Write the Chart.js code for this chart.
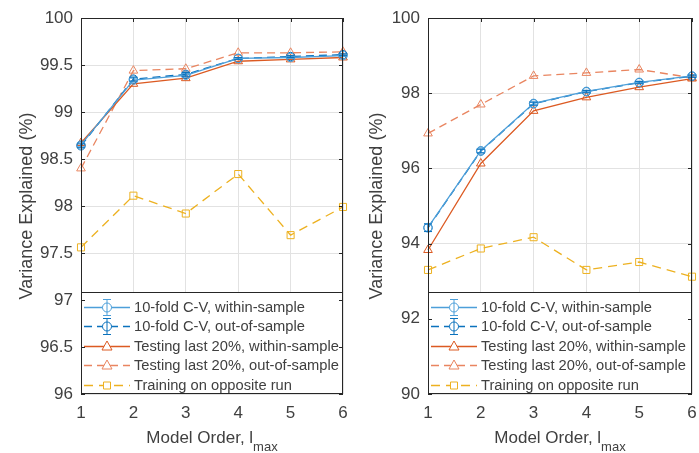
<!DOCTYPE html>
<html>
<head>
<meta charset="utf-8">
<script src="https://cdn.jsdelivr.net/npm/chart.js@4.4.1/dist/chart.umd.min.js"></script>
<style>
  body { margin: 0; background: #fff; }
  .panel { position: absolute; top: 0; width: 350px; height: 453px; }
  #left { left: 0; }
  #right { left: 349px; }
</style>
</head>
<body>
<div class="panel" id="left"><canvas id="chartLeft"></canvas></div>
<div class="panel" id="right"><canvas id="chartRight"></canvas></div>
<script>
// model order on the x axis
const orders = [1, 2, 3, 4, 5, 6];

// left panel
const leftCvWithin = [98.65, 99.34, 99.39, 99.57, 99.58, 99.60];
const leftCvOut = [98.64, 99.35, 99.40, 99.57, 99.59, 99.61];
const leftCvErrWithin = [0.02, 0.02, 0.02, 0.01, 0.01, 0.01];
const leftCvErrOut = [0.02, 0.02, 0.02, 0.01, 0.01, 0.01];
const leftTestWithin = [98.67, 99.30, 99.36, 99.54, 99.56, 99.58];
const leftTestOut = [98.40, 99.44, 99.46, 99.63, 99.63, 99.64];
const leftOpposite = [97.56, 98.11, 97.92, 98.34, 97.69, 97.99];
const leftTicks = [96, 96.5, 97, 97.5, 98, 98.5, 99, 99.5, 100];

// right panel
const rightCvWithin = [94.43, 96.47, 97.73, 98.05, 98.29, 98.46];
const rightCvOut = [94.42, 96.46, 97.72, 98.04, 98.28, 98.45];
const rightCvErrWithin = [0.10, 0.05, 0.04, 0.03, 0.03, 0.03];
const rightCvErrOut = [0.10, 0.05, 0.04, 0.03, 0.03, 0.03];
const rightTestWithin = [93.83, 96.13, 97.53, 97.89, 98.16, 98.39];
const rightTestOut = [96.93, 97.70, 98.46, 98.54, 98.63, 98.41];
const rightOpposite = [93.30, 93.87, 94.17, 93.30, 93.51, 93.12];
const rightTicks = [90, 92, 94, 96, 98, 100];

const legendLabels = [
  '10-fold C-V, within-sample',
  '10-fold C-V, out-of-sample',
  'Testing last 20%, within-sample',
  'Testing last 20%, out-of-sample',
  'Training on opposite run'
];

const BLUE_LIGHT = '#4d9fd9';
const BLUE = '#0b72bd';
const ORANGE = '#dc5a22';
const ORANGE_LIGHT = '#e98560';
const YELLOW = '#edb120';
const AXIS = '#262626';
const TEXT = '#404040';
const FONT = '"Liberation Sans", Arial, sans-serif';

const toPoints = (vals) => vals.map((v, i) => ({ x: orders[i], y: v }));

// custom drawing: error bars, frame with inward ticks, legend, axis titles
const panelPlugin = {
  id: 'panelPlugin',
  afterDatasetsDraw(chart) {
    const { ctx, chartArea: a, scales } = chart;
    const xs = scales.x, ys = scales.y;

    // error bars on the C-V series
    chart.data.datasets.forEach((ds) => {
      if (!ds.errors) return;
      ctx.save();
      ctx.strokeStyle = ds.borderColor;
      ctx.lineWidth = 1;
      ds.data.forEach((p, i) => {
        const px = xs.getPixelForValue(p.x);
        const y1 = ys.getPixelForValue(p.y + ds.errors[i]);
        const y2 = ys.getPixelForValue(p.y - ds.errors[i]);
        ctx.beginPath();
        ctx.moveTo(px, y1); ctx.lineTo(px, y2);
        ctx.moveTo(px - 4, y1); ctx.lineTo(px + 4, y1);
        ctx.moveTo(px - 4, y2); ctx.lineTo(px + 4, y2);
        ctx.stroke();
      });
      ctx.restore();
    });

    // legend box inside the bottom of the plot
    const lh = 102;
    const lt = a.bottom - lh;
    ctx.save();
    ctx.fillStyle = '#fff';
    ctx.fillRect(a.left, lt, a.right - a.left, lh);
    ctx.strokeStyle = AXIS;
    ctx.lineWidth = 1;
    ctx.strokeRect(a.left + 0.5, lt + 0.5, a.right - a.left - 1, lh - 1);
    ctx.font = '14.7px ' + FONT;
    ctx.textBaseline = 'middle';
    chart.data.datasets.forEach((ds, i) => {
      const y = Math.round(lt + 14.5 + i * 19.5) + 0.5;
      const x0 = a.left + 3, x1 = a.left + 49, xm = (x0 + x1) / 2;
      ctx.strokeStyle = ds.borderColor;
      ctx.lineWidth = 1.3;
      ctx.setLineDash(ds.borderDash || []);
      ctx.beginPath(); ctx.moveTo(x0, y); ctx.lineTo(x1, y); ctx.stroke();
      ctx.setLineDash([]);
      ctx.lineWidth = 1;
      ctx.fillStyle = '#fff';
      ctx.beginPath();
      if (ds.pointStyle === 'circle') {
        ctx.arc(xm, y, 4.5, 0, Math.PI * 2);
        ctx.fill(); ctx.stroke();
        ctx.beginPath();
        ctx.moveTo(xm, y - 8); ctx.lineTo(xm, y + 8);
        ctx.moveTo(xm - 4, y - 8); ctx.lineTo(xm + 4, y - 8);
        ctx.moveTo(xm - 4, y + 8); ctx.lineTo(xm + 4, y + 8);
        ctx.stroke();
      } else if (ds.pointStyle === 'triangle') {
        ctx.moveTo(xm, y - 5.5); ctx.lineTo(xm + 5, y + 3.5); ctx.lineTo(xm - 5, y + 3.5);
        ctx.closePath(); ctx.fill(); ctx.stroke();
      } else {
        ctx.rect(xm - 3.5, y - 3.5, 7, 7);
        ctx.fill(); ctx.stroke();
      }
      ctx.fillStyle = TEXT;
      ctx.fillText(legendLabels[i], a.left + 53, y);
    });
    ctx.restore();
  },
  afterDraw(chart) {
    const { ctx, chartArea: a, scales } = chart;
    ctx.save();
    // frame and inward ticks
    ctx.strokeStyle = AXIS;
    ctx.lineWidth = 1;
    ctx.strokeRect(a.left + 0.5, a.top + 0.5, a.right - a.left - 1, a.bottom - a.top - 1);
    ctx.beginPath();
    scales.y.ticks.forEach((t) => {
      const py = Math.round(scales.y.getPixelForValue(t.value)) + 0.5;
      ctx.moveTo(a.left, py); ctx.lineTo(a.left + 4, py);
      ctx.moveTo(a.right, py); ctx.lineTo(a.right - 4, py);
    });
    scales.x.ticks.forEach((t) => {
      const px = Math.round(scales.x.getPixelForValue(t.value)) + 0.5;
      ctx.moveTo(px, a.top); ctx.lineTo(px, a.top + 4);
    });
    ctx.stroke();

    // axis titles
    ctx.fillStyle = TEXT;
    ctx.font = '17px ' + FONT;
    ctx.textBaseline = 'middle';
    const main = 'Model Order, l';
    const wMain = ctx.measureText(main).width;
    ctx.font = '13px ' + FONT;
    const wSub = ctx.measureText('max').width;
    const cx = (a.left + a.right) / 2;
    const sx = cx - (wMain + wSub) / 2;
    ctx.font = '17px ' + FONT;
    ctx.textAlign = 'left';
    ctx.fillText(main, sx, 438);
    ctx.font = '13px ' + FONT;
    ctx.fillText('max', sx + wMain, 447);

    ctx.font = '18px ' + FONT;
    ctx.textAlign = 'center';
    ctx.translate(chart.canvas.id === 'chartLeft' ? 27 : 28, (a.top + a.bottom) / 2);
    ctx.rotate(-Math.PI / 2);
    ctx.fillText('Variance Explained (%)', 0, 0);
    ctx.restore();
  }
};

function makePanel(id, cvW, cvO, errW, errO, tW, tO, opp, ticks, yWidth) {
  const common = { fill: false, clip: false, borderWidth: 1.3, pointRadius: 4.5,
    pointBorderWidth: 1, pointBackgroundColor: 'rgba(255,255,255,0)' };
  return new Chart(document.getElementById(id), {
    type: 'line',
    data: {
      datasets: [
        { ...common, data: toPoints(cvW), errors: errW, borderColor: BLUE_LIGHT,
          pointBorderColor: BLUE_LIGHT, pointStyle: 'circle', pointRadius: 4.2 },
        { ...common, data: toPoints(cvO), errors: errO, borderColor: BLUE,
          pointBorderColor: BLUE, pointStyle: 'circle', pointRadius: 4.2, borderDash: [8, 5] },
        { ...common, data: toPoints(tW), borderColor: ORANGE,
          pointBorderColor: ORANGE, pointStyle: 'triangle', pointRadius: 5 },
        { ...common, data: toPoints(tO), borderColor: ORANGE_LIGHT,
          pointBorderColor: ORANGE_LIGHT, pointStyle: 'triangle', pointRadius: 5, borderDash: [8, 5] },
        { ...common, data: toPoints(opp), borderColor: YELLOW,
          pointBorderColor: YELLOW, pointStyle: 'rect', pointRadius: 5, borderDash: [9, 6] }
      ]
    },
    options: {
      responsive: true,
      maintainAspectRatio: false,
      animation: false,
      events: [],
      layout: { padding: { top: 18, right: 7, left: 0, bottom: 0 } },
      plugins: { legend: { display: false }, tooltip: { enabled: false } },
      scales: {
        x: {
          type: 'linear', min: 1, max: 6,
          afterFit: (s) => { s.height = 59; s.paddingLeft = 0; s.paddingRight = 0; },
          afterBuildTicks: (s) => { s.ticks = orders.map((v) => ({ value: v })); },
          grid: { color: '#e2e2e2', drawTicks: false },
          border: { display: false },
          ticks: { padding: 9, color: TEXT, font: { family: FONT, size: 17 } }
        },
        y: {
          min: ticks[0], max: ticks[ticks.length - 1],
          afterFit: (s) => { s.width = yWidth; s.paddingTop = 0; s.paddingBottom = 0; },
          afterBuildTicks: (s) => { s.ticks = ticks.map((v) => ({ value: v })); },
          grid: { color: '#e2e2e2', drawTicks: false },
          border: { display: false },
          ticks: { padding: 8, color: TEXT, font: { family: FONT, size: 17 },
            callback: (v) => String(v) }
        }
      }
    },
    plugins: [panelPlugin]
  });
}

makePanel('chartLeft', leftCvWithin, leftCvOut, leftCvErrWithin, leftCvErrOut,
  leftTestWithin, leftTestOut, leftOpposite, leftTicks, 81);
makePanel('chartRight', rightCvWithin, rightCvOut, rightCvErrWithin, rightCvErrOut,
  rightTestWithin, rightTestOut, rightOpposite, rightTicks, 79);
</script>
</body>
</html>
